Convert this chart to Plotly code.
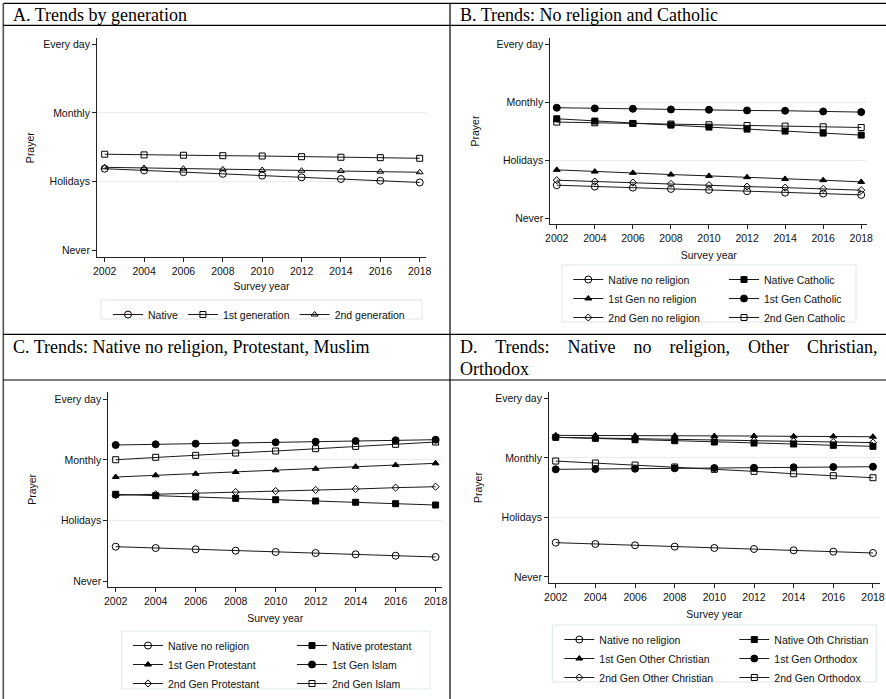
import plotly.graph_objects as go

# ---------------- data ----------------
years = [2002, 2004, 2006, 2008, 2010, 2012, 2014, 2016, 2018]
prayer_vals = [1, 2, 3, 4]
prayer_labels = ["Never", "Holidays", "Monthly", "Every day"]

# Panel A
a_native = [2.19, 2.165, 2.14, 2.115, 2.09, 2.065, 2.04, 2.015, 1.99]
a_first_gen = [2.40, 2.39, 2.385, 2.379, 2.374, 2.364, 2.356, 2.35, 2.341]
a_second_gen = [2.21, 2.20, 2.19, 2.181, 2.171, 2.161, 2.157, 2.147, 2.138]

# Panel B
b_native_norel = [1.576, 1.552, 1.534, 1.512, 1.495, 1.472, 1.448, 1.431, 1.409]
b_native_cath = [2.719, 2.679, 2.638, 2.610, 2.576, 2.541, 2.507, 2.472, 2.438]
b_first_norel = [1.840, 1.810, 1.788, 1.759, 1.736, 1.714, 1.684, 1.662, 1.633]
b_first_cath = [2.909, 2.897, 2.891, 2.879, 2.874, 2.862, 2.857, 2.845, 2.834]
b_second_norel = [1.662, 1.638, 1.621, 1.598, 1.576, 1.552, 1.534, 1.512, 1.490]
b_second_cath = [2.662, 2.650, 2.638, 2.628, 2.616, 2.603, 2.593, 2.581, 2.569]

# Panel C
c_native_norel = [1.575, 1.553, 1.532, 1.509, 1.488, 1.471, 1.450, 1.427, 1.406]
c_native_prot = [2.435, 2.412, 2.391, 2.369, 2.346, 2.325, 2.304, 2.281, 2.259]
c_first_prot = [2.719, 2.747, 2.773, 2.801, 2.829, 2.855, 2.888, 2.916, 2.944]
c_first_islam = [3.245, 3.256, 3.266, 3.278, 3.289, 3.299, 3.310, 3.322, 3.332]
c_second_prot = [2.419, 2.435, 2.456, 2.473, 2.489, 2.506, 2.522, 2.544, 2.560]
c_second_islam = [3.003, 3.043, 3.075, 3.113, 3.146, 3.184, 3.223, 3.256, 3.294]

# Panel D
d_native_norel = [1.576, 1.554, 1.532, 1.509, 1.487, 1.470, 1.448, 1.425, 1.403]
d_native_othchr = [3.344, 3.327, 3.304, 3.287, 3.265, 3.248, 3.232, 3.210, 3.193]
d_first_othchr = [3.377, 3.377, 3.371, 3.371, 3.366, 3.366, 3.361, 3.361, 3.354]
d_first_orth = [2.807, 2.812, 2.817, 2.824, 2.829, 2.834, 2.841, 2.846, 2.851]
d_second_othchr = [3.344, 3.333, 3.322, 3.310, 3.299, 3.288, 3.277, 3.266, 3.255]
d_second_orth = [2.946, 2.913, 2.879, 2.846, 2.807, 2.773, 2.733, 2.700, 2.666]

# ---------------- layout helpers ----------------
W, H = 886, 699
def PX(x):
    return x / W
def PY(y):
    return 1 - y / H

SANS = "Liberation Sans, Arial, sans-serif"
SERIF = "Liberation Serif, Times New Roman, serif"
FS = 10.5

SIZES = {"circle": 7, "square": 6, "triangle-up": 6, "diamond": 5.5}

fig = go.Figure()

def add(x_ax, y_ax, name, vals, sym, filled, legend):
    base = sym
    fig.add_trace(go.Scatter(
        x=years, y=vals, name=name, mode="lines+markers",
        xaxis=x_ax, yaxis=y_ax, legend=legend,
        line=dict(color="#1a1a1a", width=1),
        marker=dict(symbol=base if filled else base + "-open",
                    size=SIZES[base], color="black",
                    line=dict(color="black", width=1)),
        hoverinfo="x+y+name",
    ))

# Panel A
add("x", "y", "Native", a_native, "circle", False, "legend")
add("x", "y", "1st generation", a_first_gen, "square", False, "legend")
add("x", "y", "2nd generation", a_second_gen, "triangle-up", False, "legend")

# Panel B (left column legend2, right column legend3)
add("x2", "y2", "Native no religion", b_native_norel, "circle", False, "legend2")
add("x2", "y2", "1st Gen no religion", b_first_norel, "triangle-up", True, "legend2")
add("x2", "y2", "2nd Gen no religion", b_second_norel, "diamond", False, "legend2")
add("x2", "y2", "Native Catholic", b_native_cath, "square", True, "legend3")
add("x2", "y2", "1st Gen Catholic", b_first_cath, "circle", True, "legend3")
add("x2", "y2", "2nd Gen Catholic", b_second_cath, "square", False, "legend3")

# Panel C
add("x3", "y3", "Native no religion", c_native_norel, "circle", False, "legend4")
add("x3", "y3", "1st Gen Protestant", c_first_prot, "triangle-up", True, "legend4")
add("x3", "y3", "2nd Gen Protestant", c_second_prot, "diamond", False, "legend4")
add("x3", "y3", "Native protestant", c_native_prot, "square", True, "legend5")
add("x3", "y3", "1st Gen Islam", c_first_islam, "circle", True, "legend5")
add("x3", "y3", "2nd Gen Islam", c_second_islam, "square", False, "legend5")

# Panel D
add("x4", "y4", "Native no religion", d_native_norel, "circle", False, "legend6")
add("x4", "y4", "1st Gen Other Christian", d_first_othchr, "triangle-up", True, "legend6")
add("x4", "y4", "2nd Gen Other Christian", d_second_othchr, "diamond", False, "legend6")
add("x4", "y4", "Native Oth Christian", d_native_othchr, "square", True, "legend7")
add("x4", "y4", "1st Gen Orthodox", d_first_orth, "circle", True, "legend7")
add("x4", "y4", "2nd Gen Orthodox", d_second_orth, "square", False, "legend7")

def xaxis(dom, rng, anchor, standoff):
    return dict(
        domain=[PX(dom[0]), PX(dom[1])], range=rng, anchor=anchor,
        tickmode="array", tickvals=years, ticktext=[str(y) for y in years],
        showline=True, linecolor="#222", linewidth=1, mirror=False,
        ticks="outside", ticklen=4, tickcolor="#222", tickwidth=1,
        showgrid=False, zeroline=False, automargin=False,
        tickfont=dict(family=SANS, size=FS, color="#111"),
        title=dict(text="Survey year", font=dict(family=SANS, size=FS, color="#111"),
                   standoff=standoff),
        fixedrange=True,
    )

def yaxis(dom, rng, anchor, standoff):
    return dict(
        domain=[PY(dom[1]), PY(dom[0])], range=rng, anchor=anchor,
        tickmode="array", tickvals=prayer_vals, ticktext=prayer_labels,
        showline=True, linecolor="#222", linewidth=1, mirror=False,
        ticks="outside", ticklen=4, tickcolor="#222", tickwidth=1,
        showgrid=False, zeroline=False, automargin=False,
        minor=dict(tickmode="array", tickvals=[2, 3], ticks="", showgrid=True,
                   gridcolor="#e6eff0", gridwidth=1),
        tickfont=dict(family=SANS, size=FS, color="#111"),
        title=dict(text="Prayer", font=dict(family=SANS, size=FS, color="#111"),
                   standoff=standoff),
        fixedrange=True,
    )

def vleg(x, y):
    return dict(x=PX(x), y=PY(y), xanchor="left", yanchor="top",
                orientation="v", bgcolor="rgba(0,0,0,0)", borderwidth=0,
                font=dict(family=SANS, size=FS, color="#111"), tracegroupgap=0)

shapes = []
def hline(y, x0=3.3, x1=886, color="black", w=1.2):
    shapes.append(dict(type="line", xref="paper", yref="paper",
                       x0=PX(x0), x1=PX(x1), y0=PY(y), y1=PY(y),
                       line=dict(color=color, width=w)))
def vline(x, y0=3.3, y1=699, color="black", w=1.2):
    shapes.append(dict(type="line", xref="paper", yref="paper",
                       x0=PX(x), x1=PX(x), y0=PY(y0), y1=PY(y1),
                       line=dict(color=color, width=w)))
def box(x0, y0, x1, y1):
    shapes.append(dict(type="rect", xref="paper", yref="paper",
                       x0=PX(x0), x1=PX(x1), y0=PY(y1), y1=PY(y0),
                       line=dict(color="#dde5e7", width=1), layer="below"))

hline(3.3)
vline(3.3, color="#555", w=1.6)
hline(25.3)
vline(450)
hline(334.3)
hline(380)

box(101, 300, 422, 319)
box(562, 265, 856, 322)
box(121.7, 631, 430, 689)
box(552.3, 625, 876.3, 682)

def title(text, x, y):
    return dict(text=text, x=PX(x), y=PY(y), xref="paper", yref="paper",
                xanchor="left", yanchor="middle", showarrow=False,
                font=dict(family=SERIF, size=18, color="black"))

NB = "\u00a0"
d_line1 = (NB * 3 + " ").join(["D.", "Trends:", "Native", "no", "religion,", "Other", "Christian,"])

annotations = [
    title("A. Trends by generation", 11, 15),
    title("B. Trends: No religion and Catholic", 457.5, 15),
    title("C. Trends: Native no religion, Protestant, Muslim", 11, 346.5),
    title(d_line1, 457.5, 346.5),
    title("Orthodox", 457.5, 368.5),
]

SH = 7  # legend nudge so texts line up with the reference

fig.update_layout(
    width=W, height=H,
    margin=dict(l=0, r=0, t=0, b=0, pad=0, autoexpand=False),
    paper_bgcolor="white", plot_bgcolor="white",
    showlegend=True,
    xaxis=xaxis((97, 426), [2001.61, 2018.32], "y", 7),
    yaxis=yaxis((38.3, 257), [0.908, 4.083], "x", 6),
    xaxis2=xaxis((550.3, 867.3), [2001.66, 2018.32], "y2", 8),
    yaxis2=yaxis((37.7, 224.3), [0.903, 4.114], "x2", 14),
    xaxis3=xaxis((108.3, 442), [2001.63, 2018.32], "y3", 9),
    yaxis3=yaxis((391.7, 587), [0.913, 4.12], "x3", 15),
    xaxis4=xaxis((549, 879.7), [2001.66, 2018.34], "y4", 8),
    yaxis4=yaxis((391.7, 583.3), [0.894, 4.11], "x4", 10),
    legend=dict(x=PX(101 + SH), y=PY(300), xanchor="left", yanchor="top",
                orientation="h", bgcolor="rgba(0,0,0,0)", borderwidth=0,
                font=dict(family=SANS, size=FS, color="#111")),
    legend2=vleg(561.3 + SH, 265),
    legend3=vleg(717 + SH, 265),
    legend4=vleg(121 + SH, 631),
    legend5=vleg(285 + SH, 631),
    legend6=vleg(552.3 + SH, 625),
    legend7=vleg(727.3 + SH, 625),
    shapes=shapes,
    annotations=annotations,
)

fig.write_html(
    "out.html",
    config={"displayModeBar": False},
    post_script="document.body.style.margin='0';document.body.style.overflow='hidden';",
)
